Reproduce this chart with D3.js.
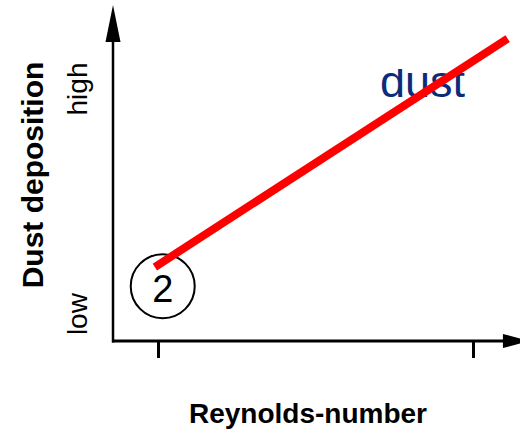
<!DOCTYPE html>
<html>
<head>
<meta charset="utf-8">
<script src="https://cdn.jsdelivr.net/npm/d3@7"></script>
<style>
  html, body { margin: 0; padding: 0; background: #fff; }
  svg { display: block; }
  text { font-family: "Liberation Sans", Arial, Helvetica, sans-serif; }
</style>
</head>
<body>
<script>
// ---- data ----
const xTicks = [0, 1];                       // two unlabeled tick marks on the Reynolds-number axis
const yLabels = ["low", "high"];              // qualitative y-axis labels
const yLabelPos = [0.08, 0.75];               // positions (in y units) of the qualitative labels
const lineX = [-0.01, 1.11];                  // red trend line, x values
const lineY = [0.22, 0.90];                   // red trend line, y values (dust deposition)
const marker = { x: 0.015, y: 0.163, label: "2" };
const seriesLabel = { text: "dust", x: 0.705, y: 0.725 };
const xTitle = "Reynolds-number";
const yTitle = "Dust deposition";

// ---- layout ----
const W = 520, H = 433;
const svg = d3.select("body").append("svg").attr("width", W).attr("height", H);

const x = d3.scaleLinear().domain([0, 1]).range([158, 473]);
const y = d3.scaleLinear().domain([0, 1]).range([341, 5]);
const xMin = x.invert(112), xMax = x.invert(530);
const yTop = 1;

// clip for the partly cut-off "dust" label
svg.append("defs").append("clipPath").attr("id", "cutTop")
  .append("rect").attr("x", 0).attr("y", 69).attr("width", W).attr("height", H);

// x axis ticks
const xAxis = d3.axisBottom(x).tickValues(xTicks).tickSize(17).tickFormat("").tickSizeOuter(0);
const gx = svg.append("g").attr("transform", `translate(0,${y(0)})`).call(xAxis);
gx.select(".domain").remove();
gx.selectAll(".tick line").attr("stroke", "#000").attr("stroke-width", 3);

// x axis line
svg.append("line")
  .attr("x1", x(xMin)).attr("x2", x(1.10))
  .attr("y1", y(0)).attr("y2", y(0))
  .attr("stroke", "#000").attr("stroke-width", 3);

// y axis line
svg.append("line")
  .attr("x1", x(xMin) + 1).attr("x2", x(xMin) + 1)
  .attr("y1", y(0) + 1.5).attr("y2", y(0.9))
  .attr("stroke", "#000").attr("stroke-width", 2.5);

// arrow heads
const ax = x(xMin) + 1;
svg.append("path")
  .attr("d", `M${ax},${y(yTop)} L${ax - 7.5},${y(0.89)} L${ax + 7.5},${y(0.89)} Z`)
  .attr("fill", "#000");
svg.append("path")
  .attr("d", `M${x(xMax)},${y(0)} L${x(1.095)},${y(0) - 7} L${x(1.095)},${y(0) + 7} Z`)
  .attr("fill", "#000");

// axis titles
svg.append("text")
  .attr("transform", `translate(43,${y(0.5) + 2}) rotate(-90)`)
  .attr("text-anchor", "middle")
  .attr("font-weight", "bold").attr("font-size", 30)
  .attr("fill", "#000")
  .text(yTitle);

svg.append("text")
  .attr("x", 308).attr("y", 423)
  .attr("text-anchor", "middle")
  .attr("font-weight", "bold").attr("font-size", 28)
  .attr("fill", "#000")
  .text(xTitle);

// qualitative y labels
svg.selectAll("text.ylab").data(yLabels).join("text")
  .attr("class", "ylab")
  .attr("transform", (d, i) => `translate(87,${y(yLabelPos[i])}) rotate(-90)`)
  .attr("text-anchor", "middle")
  .attr("font-size", 28)
  .attr("fill", "#000")
  .text(d => d);

// series label (cut at the top)
svg.append("text")
  .attr("clip-path", "url(#cutTop)")
  .attr("x", x(seriesLabel.x)).attr("y", y(seriesLabel.y))
  .attr("font-size", 45)
  .attr("fill", "#0b2b7b")
  .text(seriesLabel.text);

// circled marker
svg.append("circle")
  .attr("cx", x(marker.x)).attr("cy", y(marker.y))
  .attr("r", 32)
  .attr("fill", "none").attr("stroke", "#000").attr("stroke-width", 2);
svg.append("text")
  .attr("x", x(marker.x)).attr("y", y(marker.y) + 16)
  .attr("text-anchor", "middle")
  .attr("font-size", 38)
  .attr("fill", "#000")
  .text(marker.label);

// red trend line
const pts = lineX.map((v, i) => [v, lineY[i]]);
svg.append("path")
  .datum(pts)
  .attr("d", d3.line().x(d => x(d[0])).y(d => y(d[1])))
  .attr("fill", "none")
  .attr("stroke", "#ff0000")
  .attr("stroke-width", 8);
</script>
</body>
</html>
